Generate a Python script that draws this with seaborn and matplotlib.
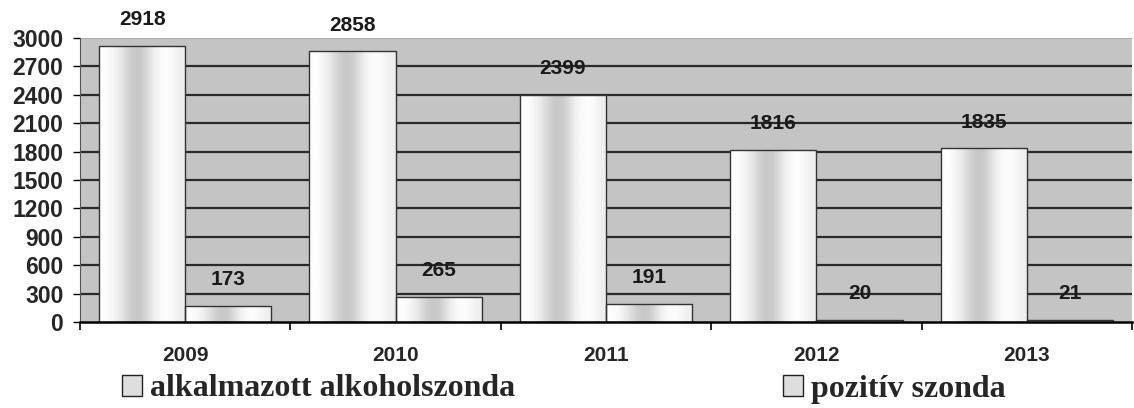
import numpy as np
import pandas as pd
import matplotlib
matplotlib.use("Agg")
import matplotlib.pyplot as plt
import seaborn as sns
from matplotlib.patches import Patch

years = ["2009", "2010", "2011", "2012", "2013"]
applied = [2918, 2858, 2399, 1816, 1835]
positive = [173, 265, 191, 20, 21]
series_names = ["alkalmazott alkoholszonda", "pozitív szonda"]
yticks = list(range(0, 3001, 300))

df = pd.DataFrame({
    "year": years * 2,
    "value": applied + positive,
    "series": [series_names[0]] * len(years) + [series_names[1]] * len(years),
})

sns.set_theme(style="white")
plt.rcParams["font.family"] = ["Liberation Sans", "DejaVu Sans"]

fig = plt.figure(figsize=(11.34, 4.08), dpi=100)
ax = fig.add_axes([80 / 1134, 1 - 322 / 408, 1052 / 1134, 284 / 408])
ax.set_facecolor("#c4c4c4")

sns.barplot(data=df, x="year", y="value", hue="series", hue_order=series_names,
            palette=["white", "white"], width=0.82, edgecolor="#333333",
            linewidth=1.0, legend=False, ax=ax, zorder=3)

ax.set_xlim(-0.5, len(years) - 0.5)
ax.set_ylim(0, 3000)

# soft gradient fill inside bars
prof = np.array([1.0, 0.99, 0.97, 0.93, 0.87, 0.81, 0.78, 0.80, 0.87, 0.94, 0.98, 0.99, 0.97, 0.94, 0.93])
xs = np.linspace(0, 1, len(prof))
xf = np.linspace(0, 1, 200)
grad = np.interp(xf, xs, prof)[None, :]
for p in list(ax.patches):
    x0, w = p.get_x(), p.get_width()
    y0, h = p.get_y(), p.get_height()
    im = ax.imshow(grad, extent=[x0, x0 + w, y0, y0 + h], aspect="auto",
                   cmap="gray", vmin=0, vmax=1, zorder=3.5, interpolation="bilinear")
    im.set_clip_path(p)
    p.set_facecolor("none")
    p.set_zorder(4)
ax.set_xlim(-0.5, len(years) - 0.5)
ax.set_ylim(0, 3000)
ax.set_aspect("auto")

for c in ax.containers:
    ax.bar_label(c, padding=12, fontsize=15, fontweight="bold", color="#1a1a1a")

ax.set_yticks(yticks)
ax.set_yticklabels([str(v) for v in yticks], fontsize=16.5, fontweight="bold")
for v in yticks[1:-1]:
    ax.axhline(v, color="#2a2a2a", lw=1.6, zorder=2)
ax.axhline(3000, color="#a8a8a8", lw=1.2, zorder=2)

ax.set_xticks(range(len(years)))
ax.set_xticklabels(years, fontsize=15, fontweight="bold")
ax.set_xticks(np.arange(-0.5, len(years), 1.0), minor=True)
ax.tick_params(axis="x", which="major", length=0, pad=17)
ax.tick_params(axis="x", which="minor", length=6, width=1.2, color="black", direction="out")
ax.tick_params(axis="y", length=5, width=1.0, color="black", direction="out", pad=7)
ax.xaxis.set_ticks_position("bottom")
ax.yaxis.set_ticks_position("left")
ax.set_xlabel("")
ax.set_ylabel("")

for s in ["top", "right"]:
    ax.spines[s].set_visible(False)
ax.spines["left"].set_color("#555555")
ax.spines["left"].set_linewidth(0.8)
ax.spines["bottom"].set_color("black")
ax.spines["bottom"].set_linewidth(1.8)
ax.spines["bottom"].set_zorder(5)

handles = [Patch(facecolor="#dedede", edgecolor="#222222", linewidth=1.0, label=n) for n in series_names]
fig.legend(handles=handles, loc="center left", bbox_to_anchor=(122 / 1134, 1 - 389 / 408),
           ncol=2, frameon=False, handlelength=0.62, handleheight=0.62, handletextpad=0.25,
           columnspacing=8.4, borderaxespad=0, borderpad=0,
           prop={"family": ["Liberation Serif", "DejaVu Serif"], "weight": "bold", "size": 23})

fig.savefig("out.png", dpi=100)
